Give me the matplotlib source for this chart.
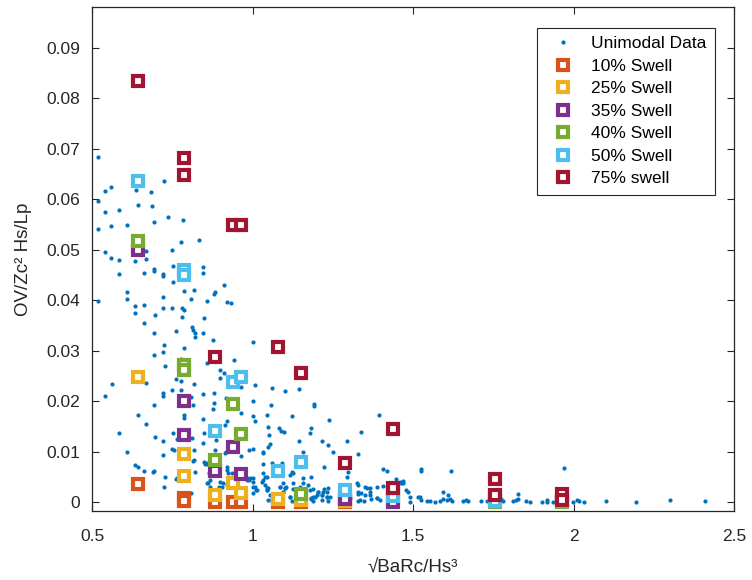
import numpy as np
import matplotlib
matplotlib.use('Agg')
import matplotlib.pyplot as plt

plt.rcParams['font.family'] = ['Liberation Sans', 'DejaVu Sans']

# unimodal data (blue dots)
uni_x = [0.519, 0.539, 0.559, 0.519, 0.539, 0.583, 0.635, 0.683, 0.642, 0.685, 0.723, 0.519, 0.559, 0.607, 0.693,
         0.737, 0.782, 0.775, 0.833, 0.539, 0.559, 0.583, 0.634, 0.667, 0.667, 0.748, 0.692, 0.752, 0.844, 0.583,
         0.661, 0.692, 0.721, 0.721, 0.752, 0.846, 0.910, 0.607, 0.607, 0.721, 0.787, 0.817, 0.807, 0.856, 0.879,
         0.882, 0.919, 0.931, 0.519,
         0.634, 0.634, 0.661, 0.721, 0.748, 0.779, 0.786, 0.779, 0.849, 0.661, 0.694, 0.810, 0.815, 0.820, 0.820,
         0.844, 0.760, 0.692, 0.875, 1.000, 0.723, 0.786, 0.721, 0.692, 0.726, 0.777, 0.856, 0.941, 0.761, 0.776,
         0.898, 0.898, 0.910, 0.667, 0.560, 0.539, 0.721, 0.719, 0.747, 0.778, 0.817, 0.846, 0.880, 0.917, 0.965,
         1.007, 1.102, 1.061, 1.145, 0.807, 1.000,
         0.692, 0.813, 0.880, 0.877, 1.056, 1.191, 1.192, 0.643, 0.786, 0.786, 0.846, 0.919, 0.962, 1.000, 1.043,
         1.121, 0.667, 1.006, 1.048, 1.081, 1.088, 1.097, 1.182, 1.237, 0.583, 0.752, 0.848, 0.913, 1.051, 1.178,
         0.694, 0.721, 0.763, 0.811, 0.844, 0.885, 1.145, 1.217, 1.235, 1.054, 1.049, 1.294, 1.339, 1.395, 0.750,
         0.754, 0.817, 0.989, 1.002,
         0.607, 0.721, 0.817, 0.813, 0.849, 0.856, 0.916, 0.965, 1.031, 1.031, 1.031, 1.060, 1.090, 1.157, 1.221,
         1.249, 1.329, 0.882, 0.914, 0.633, 0.643, 0.661, 0.692, 0.821, 0.863, 0.919, 0.922, 1.031, 1.038, 1.043,
         1.126, 1.121, 1.116, 1.157, 1.183, 1.298, 1.298, 1.293, 1.407, 1.417, 1.524, 1.524, 1.617, 1.970, 0.763,
         0.726, 0.981, 1.002, 0.893, 0.919, 0.851, 0.858, 0.690,
         0.989, 1.002, 1.010, 1.031, 1.157, 1.095, 1.103, 1.043, 0.856, 0.867, 0.908, 0.919, 0.896, 0.807, 0.723,
         1.126, 1.142, 1.189, 1.204, 1.189, 1.199, 1.220, 1.230, 1.235, 1.054, 1.059, 1.116, 0.761, 0.898, 0.903,
         0.934, 0.981, 0.991, 1.002, 1.007, 1.012, 1.002, 0.970, 0.861, 0.867, 1.028, 1.038, 1.049, 1.043, 1.084,
         1.100, 1.095, 1.126, 1.147, 1.173, 1.178, 1.204, 1.215, 1.230, 1.215, 1.235, 1.272, 1.277, 1.293, 1.303,
         1.324, 1.329, 1.339, 1.334, 1.355, 1.365, 1.370, 1.386, 1.459, 1.469, 1.479, 1.043, 1.084, 1.100, 1.095,
         1.049, 1.059, 1.116, 1.121, 1.183, 1.189,
         1.522, 1.526, 1.542, 1.552, 1.568, 1.583, 1.592, 1.593, 1.609, 1.614, 1.620, 1.656, 1.666, 1.671, 1.713,
         1.729, 1.780, 1.775, 1.812, 1.822, 1.827, 1.827, 1.853, 1.864, 1.900, 1.916, 1.917, 1.936, 1.998, 2.011,
         2.016, 2.032, 2.102, 2.195, 2.301, 2.408,
         1.448, 1.469, 1.462, 1.329, 1.350, 1.367, 1.388, 1.405, 1.329, 1.350, 1.367, 1.329, 1.347, 1.386, 1.396,
         1.484, 1.490, 1.490, 1.516, 1.604, 1.223, 1.233, 1.215, 1.240, 1.194, 1.183]
uni_y = [0.0684, 0.0616, 0.0624, 0.0597, 0.0575, 0.0578, 0.0618, 0.0614, 0.0589, 0.0586, 0.0636, 0.0542, 0.0547, 0.0550, 0.0556,
         0.0566, 0.0560, 0.0516, 0.0519, 0.0495, 0.0484, 0.0479, 0.0478, 0.0498, 0.0482, 0.0500, 0.0462, 0.0468, 0.0466, 0.0452,
         0.0455, 0.0459, 0.0452, 0.0449, 0.0437, 0.0454, 0.0430, 0.0417, 0.0402, 0.0407, 0.0419, 0.0421, 0.0402, 0.0399, 0.0413,
         0.0416, 0.0396, 0.0394, 0.0399,
         0.0388, 0.0376, 0.0391, 0.0384, 0.0384, 0.0384, 0.0380, 0.0367, 0.0366, 0.0355, 0.0371, 0.0347, 0.0341, 0.0335, 0.0327,
         0.0335, 0.0339, 0.0336, 0.0322, 0.0318, 0.0312, 0.0306, 0.0298, 0.0291, 0.0270, 0.0283, 0.0277, 0.0282, 0.0244, 0.0240,
         0.0262, 0.0246, 0.0256, 0.0237, 0.0234, 0.0211, 0.0216, 0.0211, 0.0223, 0.0223, 0.0234, 0.0214, 0.0216, 0.0207, 0.0228,
         0.0233, 0.0221, 0.0227, 0.0224, 0.0209, 0.0201,
         0.0192, 0.0192, 0.0197, 0.0184, 0.0193, 0.0194, 0.0190, 0.0173, 0.0173, 0.0167, 0.0165, 0.0161, 0.0177, 0.0172, 0.0173,
         0.0172, 0.0155, 0.0161, 0.0150, 0.0147, 0.0142, 0.0140, 0.0147, 0.0163, 0.0138, 0.0137, 0.0137, 0.0153, 0.0134, 0.0137,
         0.0130, 0.0122, 0.0125, 0.0127, 0.0118, 0.0124, 0.0122, 0.0122, 0.0114, 0.0116, 0.0109, 0.0122, 0.0140, 0.0173, 0.0106,
         0.0104, 0.0104, 0.0103, 0.0106,
         0.0099, 0.0094, 0.0084, 0.0081, 0.0079, 0.0078, 0.0099, 0.0091, 0.0099, 0.0097, 0.0076, 0.0078, 0.0078, 0.0099, 0.0071,
         0.0099, 0.0095, 0.0104, 0.0097, 0.0074, 0.0070, 0.0063, 0.0062, 0.0061, 0.0058, 0.0064, 0.0058, 0.0059, 0.0051, 0.0051,
         0.0059, 0.0061, 0.0054, 0.0049, 0.0051, 0.0071, 0.0061, 0.0051, 0.0066, 0.0063, 0.0066, 0.0063, 0.0063, 0.0068, 0.0048,
         0.0050, 0.0048, 0.0048, 0.0064, 0.0071, 0.0076, 0.0076, 0.0061,
         0.0045, 0.0030, 0.0025, 0.0045, 0.0038, 0.0039, 0.0030, 0.0028, 0.0038, 0.0031, 0.0038, 0.0035, 0.0030, 0.0019, 0.0030,
         0.0026, 0.0016, 0.0026, 0.0021, 0.0010, 0.0015, 0.0021, 0.0011, 0.0028, 0.0015, 0.0006, 0.0010, 0.0047, 0.0041, 0.0031,
         0.0058, 0.0045, 0.0048, 0.0041, 0.0031, 0.0025, 0.0018, 0.0018, 0.0038, 0.0045, 0.0041, 0.0035, 0.0028, 0.0025, 0.0031,
         0.0028, 0.0021, 0.0038, 0.0031, 0.0035, 0.0025, 0.0021, 0.0015, 0.0011, 0.0005, 0.0003, 0.0031, 0.0021, 0.0008, 0.0008,
         0.0038, 0.0021, 0.0018, 0.0005, 0.0028, 0.0021, 0.0006, 0.0008, 0.0041, 0.0038, 0.0025, 0.0025, 0.0031, 0.0028, 0.0021,
         0.0005, 0.0002, 0.0011, 0.0002, 0.0008, 0.0002,
         0.0011, 0.0005, 0.0003, 0.0002, 0.0000, 0.0003, 0.0021, 0.0006, 0.0015, 0.0006, 0.0002, 0.0003, 0.0005, 0.0002, 0.0003,
         0.0003, 0.0002, 0.0006, 0.0002, 0.0005, 0.0016, 0.0006, 0.0002, 0.0000, 0.0000, 0.0005, 0.0000, 0.0000, 0.0000, 0.0004,
         0.0002, 0.0000, 0.0003, 0.0000, 0.0005, 0.0002,
         0.0047, 0.0043, 0.0039, 0.0035, 0.0031, 0.0028, 0.0031, 0.0033, 0.0016, 0.0015, 0.0015, 0.0002, 0.0002, 0.0008, 0.0004,
         0.0021, 0.0010, 0.0000, 0.0011, 0.0004, 0.0026, 0.0021, 0.0015, 0.0011, 0.0011, 0.0006]

# swell cases, same x positions for each
swell_x = [0.641, 0.787, 0.787, 0.881, 0.939, 0.962, 1.079, 1.150, 1.288, 1.436, 1.436, 1.755, 1.755, 1.963, 1.963]
nan = np.nan
swell10 = [0.0037, 0.0008, 0.0002, 0.0001, 0.0, 0.0, 0.0, 0.0, 0.0, nan, nan, nan, nan, nan, nan]
swell25 = [0.0249, 0.0095, 0.0052, 0.0015, 0.0038, 0.0018, 0.0006, 0.0005, 0.0002, nan, nan, nan, nan, nan, nan]
swell35 = [0.0500, 0.0201, 0.0133, 0.0063, 0.0109, 0.0057, nan, nan, 0.0006, 0.0, nan, nan, nan, nan, nan]
swell40 = [0.0517, 0.0273, 0.0263, 0.0084, 0.0195, 0.0135, nan, 0.0017, nan, 0.0024, nan, 0.0, nan, 0.0, nan]
swell50 = [0.0637, 0.0461, 0.0451, 0.0142, 0.0238, 0.0248, 0.0062, 0.0080, 0.0025, 0.0012, nan, 0.0013, 0.0002, 0.0002, nan]
swell75 = [0.0834, 0.0682, 0.0649, 0.0287, 0.0549, 0.0549, 0.0307, 0.0257, 0.0078, 0.0146, 0.0029, 0.0046, 0.0015, 0.0017, 0.0004]

labels = ['10% Swell', '25% Swell', '35% Swell', '40% Swell', '50% Swell', '75% swell']
colors = ['#D95319', '#EDB120', '#7E2F8E', '#77AC30', '#4DBEEE', '#A2142F']

xticks = [0.5, 1, 1.5, 2, 2.5]
xticklabels = ['0.5', '1', '1.5', '2', '2.5']
yticks = [0, 0.01, 0.02, 0.03, 0.04, 0.05, 0.06, 0.07, 0.08, 0.09]
yticklabels = ['0', '0.01', '0.02', '0.03', '0.04', '0.05', '0.06', '0.07', '0.08', '0.09']

fig = plt.figure(figsize=(7.52, 5.8), dpi=100)
ax = fig.add_axes([0.1227, 0.119, 0.8534, 0.8681])

ax.plot(uni_x, uni_y, 'o', color='#0072BD', ms=3.0, mew=0, label='Unimodal Data')
for ys, c, lab in zip([swell10, swell25, swell35, swell40, swell50, swell75], colors, labels):
    ax.plot(swell_x, ys, 's', mfc='white', mec=c, ms=6.6, mew=3.0, label=lab)

ax.set_xlim(0.5, 2.5)
ax.set_ylim(-0.0017, 0.098)
ax.set_xticks(xticks)
ax.set_xticklabels(xticklabels)
ax.set_yticks(yticks)
ax.set_yticklabels(yticklabels)
ax.tick_params(direction='in', length=5, width=0.8, colors='#262626', labelsize=12.5,
               top=True, right=True)
ax.tick_params(axis='x', pad=13)
ax.tick_params(axis='y', pad=9)
for s in ax.spines.values():
    s.set_color('#262626')
    s.set_linewidth(0.9)

ax.set_xlabel('√BaRc/Hs³', fontsize=13.5, color='#262626', labelpad=11)
ax.set_ylabel('OV/Zc² Hs/Lp', fontsize=13.5, color='#262626', labelpad=10)

leg = ax.legend(loc='upper right', bbox_to_anchor=(0.97, 0.96), borderaxespad=0, fontsize=12.5,
                fancybox=False, framealpha=1, edgecolor='#262626', labelspacing=0.42,
                handletextpad=0.6, borderpad=0.5)
leg.get_frame().set_linewidth(0.8)

fig.savefig('out.png', dpi=100)
